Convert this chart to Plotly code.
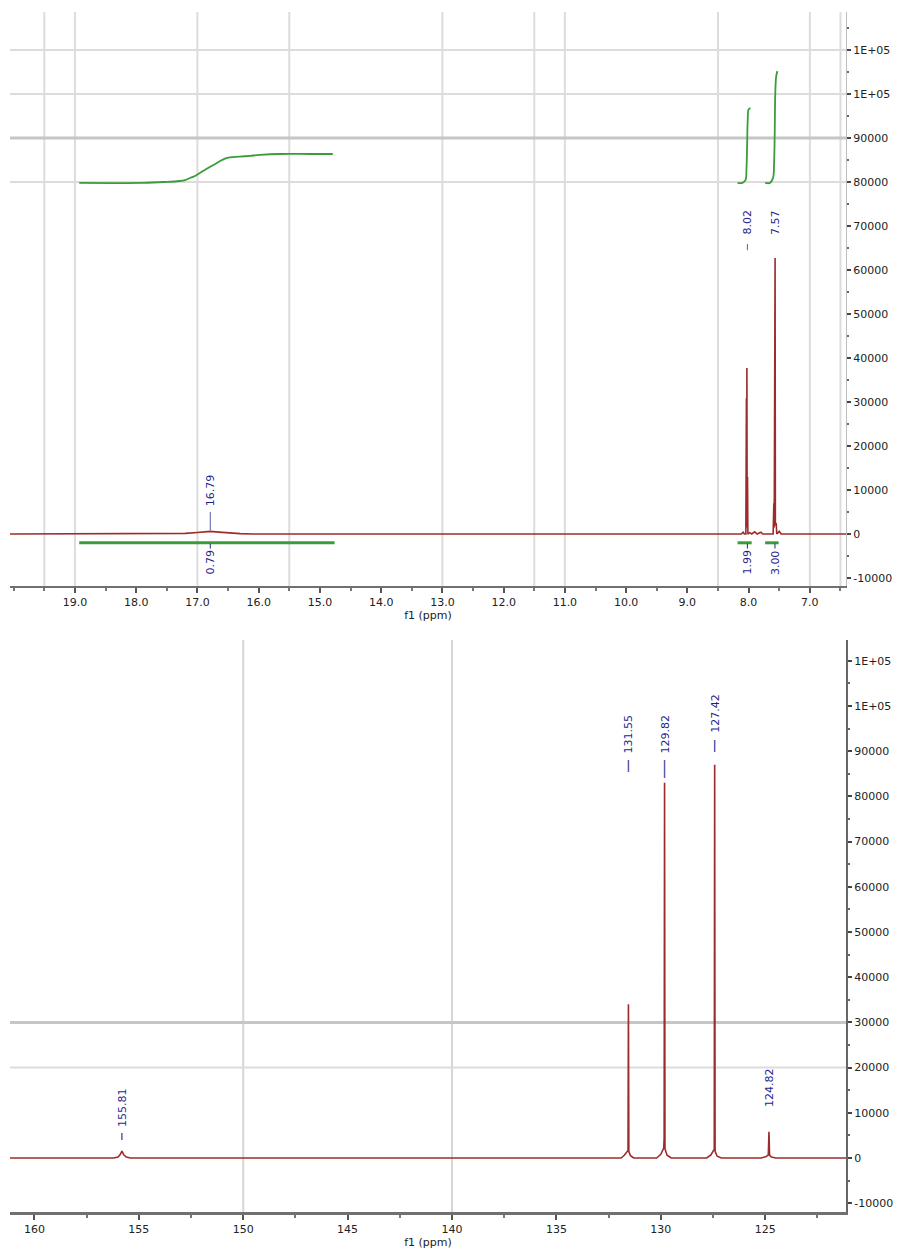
import plotly.graph_objects as go

# ---------------- data ----------------
# 1H spectrum (ppm, intensity)
h1_ppm = [20.06, 17.40, 17.20, 17.00, 16.90, 16.79, 16.65, 16.50, 16.30, 16.10,
          8.25, 8.12, 8.09, 8.07, 8.045, 8.036, 8.032, 8.028, 8.024, 8.018, 8.012,
          7.98, 7.95, 7.90, 7.86, 7.80, 7.77, 7.60, 7.588, 7.582, 7.576, 7.572,
          7.568, 7.563, 7.55, 7.54, 7.50, 7.47, 6.41]
h1_int = [0, 0, 150, 350, 450, 600, 420, 250, 80, 0,
          0, 0, 400, 0, 0, 30800, 2000, 37700, 1500, 13000, 0,
          300, 0, 500, 0, 400, 0, 0, 7000, 1500, 34300, 3000,
          62700, 2000, 2500, 0, 600, 0, 0]

# 1H integral curves
int1_ppm = [18.93, 17.89, 17.53, 17.29, 17.20, 17.12, 17.04, 16.96, 16.88, 16.80,
            16.71, 16.63, 16.55, 16.47, 16.31, 16.14, 15.98, 15.65, 15.16, 14.79]
int1_val = [79800, 79800, 80000, 80230, 80450, 80900, 81360, 82050, 82730, 83400,
            84100, 84770, 85300, 85600, 85750, 85950, 86150, 86360, 86360, 86360]
int2_ppm = [8.18, 8.10, 8.05, 8.035, 8.025, 8.015, 8.00, 7.97]
int2_val = [79800, 79800, 80500, 83000, 88000, 94000, 96500, 96800]
int3_ppm = [7.73, 7.65, 7.60, 7.585, 7.575, 7.565, 7.55, 7.53]
int3_val = [79800, 79800, 81000, 84000, 90000, 100000, 104000, 105200]

int_start = [18.93, 8.18, 7.73]
int_end = [14.76, 7.95, 7.51]
int_labels = ["0.79", "1.99", "3.00"]
int_label_ppm = [16.79, 8.02, 7.57]

h1_peak_labels = ["16.79", "8.02", "7.57"]
h1_peak_ppm = [16.79, 8.02, 7.57]

# 13C spectrum (ppm, intensity)
c13_ppm = [161.2, 156.2, 156.0, 155.9, 155.81, 155.72, 155.6, 155.4,
           131.9, 131.75, 131.6, 131.57, 131.55, 131.53, 131.45, 131.3,
           130.2, 130.0, 129.86, 129.84, 129.82, 129.80, 129.7, 129.5,
           127.8, 127.6, 127.46, 127.44, 127.42, 127.40, 127.3, 127.1,
           125.2, 124.95, 124.85, 124.82, 124.79, 124.7, 124.5, 121.13]
c13_int = [0, 0, 200, 700, 1500, 700, 200, 0,
           0, 600, 1500, 1600, 34000, 1400, 500, 0,
           0, 800, 2200, 4400, 83000, 2000, 600, 0,
           0, 700, 1800, 2000, 87000, 1500, 400, 0,
           0, 300, 700, 5800, 600, 200, 0, 0]

c13_peak_labels = ["155.81", "131.55", "129.82", "127.42", "124.82"]
c13_peak_ppm = [155.81, 131.55, 129.82, 127.42, 124.82]

y_tickvals = [-10000, 0, 10000, 20000, 30000, 40000, 50000, 60000, 70000,
              80000, 90000, 100000, 110000]
y_ticktext = ["-10000", "0", "10000", "20000", "30000", "40000", "50000", "60000",
              "70000", "80000", "90000", "1E+05", "1E+05"]
x1_tickvals = [19, 18, 17, 16, 15, 14, 13, 12, 11, 10, 9, 8, 7]
x2_tickvals = [160, 155, 150, 145, 140, 135, 130, 125]

# ---------------- style ----------------
W, H = 903, 1254
RED = "#9e2b2b"
GREEN = "#3a9c3a"
NAVY = "#1f1f8c"
FONT = "DejaVu Sans"

# label positions (data units of each panel)
h1_label_y = [10000, 70900, 70900]
int_label_y = -6400
int_bar_y = -2000
c13_label_y = [11280, 93800, 93800, 98450, 15700]
h1_conn = [(16.79, 5000, 900), (8.02, 65900, 64500)]
int_conn = (-2200, -3300)
c13_conn = [(155.81, 5530, 3980), (131.55, 88050, 85400), (129.82, 88050, 84070),
            (127.42, 92480, 89820)]

grid_top_x = [19.5, 19.0, 17.0, 15.5, 13.0, 11.5, 11.0, 8.5, 7.0, 6.5]
grid_top_y = [110000, 100000, 80000]
grid_top_y_dark = [90000]
grid_bot_x = [150, 140]
grid_bot_y = [20000]
grid_bot_y_dark = [30000]

fig = go.Figure()

# top panel traces
fig.add_trace(go.Scatter(x=h1_ppm, y=h1_int, mode="lines",
                         line=dict(color=RED, width=1.6), xaxis="x", yaxis="y",
                         hoverinfo="skip"))
for xs, ys in [(int1_ppm, int1_val), (int2_ppm, int2_val), (int3_ppm, int3_val)]:
    fig.add_trace(go.Scatter(x=xs, y=ys, mode="lines", line_shape="spline",
                             line=dict(color=GREEN, width=1.8), xaxis="x", yaxis="y"))
for s, e in zip(int_start, int_end):
    fig.add_trace(go.Scatter(x=[s, e], y=[int_bar_y, int_bar_y], mode="lines",
                             line=dict(color=GREEN, width=3), xaxis="x", yaxis="y"))

# bottom panel traces
fig.add_trace(go.Scatter(x=c13_ppm, y=c13_int, mode="lines",
                         line=dict(color=RED, width=1.6), xaxis="x2", yaxis="y2",
                         hoverinfo="skip"))

annotations = []
shapes = []
for lab, px, py in zip(h1_peak_labels, h1_peak_ppm, h1_label_y):
    annotations.append(dict(x=px, y=py, xref="x", yref="y", text=lab, showarrow=False,
                            textangle=-90, xanchor="center", yanchor="middle",
                            font=dict(family=FONT, size=11, color=NAVY)))
for lab, px in zip(int_labels, int_label_ppm):
    annotations.append(dict(x=px, y=int_label_y, xref="x", yref="y", text=lab,
                            showarrow=False, textangle=-90, xanchor="center",
                            yanchor="middle",
                            font=dict(family=FONT, size=11, color=NAVY)))
    shapes.append(dict(type="line", xref="x", yref="y", x0=px, x1=px,
                       y0=int_conn[0], y1=int_conn[1], line=dict(color=NAVY, width=1)))
for lab, px, py in zip(c13_peak_labels, c13_peak_ppm, c13_label_y):
    annotations.append(dict(x=px, y=py, xref="x2", yref="y2", text=lab, showarrow=False,
                            textangle=-90, xanchor="center", yanchor="middle",
                            font=dict(family=FONT, size=11, color=NAVY)))
for px, a, b in h1_conn:
    shapes.append(dict(type="line", xref="x", yref="y", x0=px, x1=px, y0=a, y1=b,
                       line=dict(color="#5a5aa8", width=1)))
for px, a, b in c13_conn:
    shapes.append(dict(type="line", xref="x2", yref="y2", x0=px, x1=px, y0=a, y1=b,
                       line=dict(color="#5a5aa8", width=1.5)))

# grid lines
for gx in grid_top_x:
    shapes.append(dict(type="line", xref="x", yref="y domain", x0=gx, x1=gx, y0=0, y1=1,
                       line=dict(color="#dcdcdc", width=2), layer="below"))
for gy in grid_top_y:
    shapes.append(dict(type="line", xref="x domain", yref="y", x0=0, x1=1, y0=gy, y1=gy,
                       line=dict(color="#dcdcdc", width=2), layer="below"))
for gy in grid_top_y_dark:
    shapes.append(dict(type="line", xref="x domain", yref="y", x0=0, x1=1, y0=gy, y1=gy,
                       line=dict(color="#c6c6c6", width=3), layer="below"))
for gx in grid_bot_x:
    shapes.append(dict(type="line", xref="x2", yref="y2 domain", x0=gx, x1=gx, y0=0, y1=1,
                       line=dict(color="#d6d6d6", width=2), layer="below"))
for gy in grid_bot_y:
    shapes.append(dict(type="line", xref="x2 domain", yref="y2", x0=0, x1=1, y0=gy, y1=gy,
                       line=dict(color="#dcdcdc", width=2), layer="below"))
for gy in grid_bot_y_dark:
    shapes.append(dict(type="line", xref="x2 domain", yref="y2", x0=0, x1=1, y0=gy, y1=gy,
                       line=dict(color="#c6c6c6", width=3), layer="below"))

tickfont = dict(family=FONT, size=11, color="#222222")
xdom = [10 / W, 846 / W]

common_x = dict(showgrid=False, zeroline=False, showline=True, ticks="outside",
                ticklen=5, tickwidth=2, tickcolor="#555555", tickfont=tickfont,
                title=dict(text="f1 (ppm)", font=dict(family=FONT, size=11, color="#222"),
                           standoff=2))
common_y = dict(showgrid=False, zeroline=False, side="right", ticks="outside",
                ticklen=4, tickwidth=2, tickcolor="#444444", tickfont=tickfont,
                tickvals=y_tickvals, ticktext=y_ticktext, showline=True,
                minor=dict(dtick=5000, ticklen=2, tickcolor="#666666", ticks="outside"))

fig.update_layout(
    width=W, height=H, margin=dict(l=0, r=0, t=0, b=0),
    paper_bgcolor="white", plot_bgcolor="white", showlegend=False,
    xaxis=dict(domain=xdom, range=[20.06, 6.41], anchor="y",
               tickvals=x1_tickvals, ticktext=[f"{v:.1f}" for v in x1_tickvals],
               linecolor="#707070", linewidth=2,
               minor=dict(dtick=0.5, ticklen=3, tickcolor="#777", ticks="outside"),
               **common_x),
    yaxis=dict(domain=[(H - 586) / H, (H - 12) / H], range=[-11818, 118636],
               anchor="x", linecolor="#bdbdbd", linewidth=1, **common_y),
    xaxis2=dict(domain=xdom, range=[161.17, 121.13], anchor="y2",
                tickvals=x2_tickvals, ticktext=[str(v) for v in x2_tickvals],
                linecolor="#707070", linewidth=3,
                minor=dict(dtick=2.5, ticklen=3, tickcolor="#777", ticks="outside"),
                **common_x),
    yaxis2=dict(domain=[(H - 1212) / H, (H - 640) / H], range=[-11947, 114602],
                anchor="x2", linecolor="#666666", linewidth=2, **common_y),
    annotations=annotations, shapes=shapes,
)

fig.write_html("out.html")
